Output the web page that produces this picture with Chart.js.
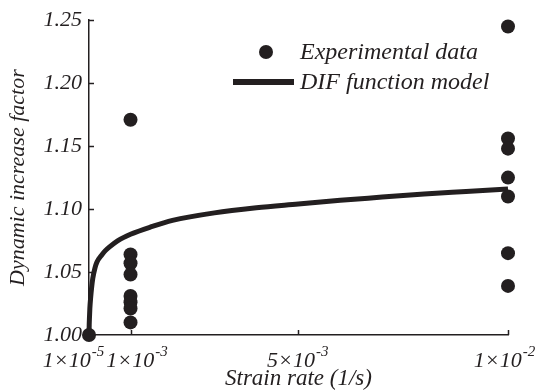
<!DOCTYPE html>
<html>
<head>
<meta charset="utf-8">
<script src="https://cdn.jsdelivr.net/npm/chart.js@4"></script>
<style>
  html, body { margin: 0; padding: 0; background: #fff; }
  #wrap { width: 536px; height: 392px; }
</style>
</head>
<body>
<div id="wrap"><canvas id="difChart" width="536" height="392"></canvas></div>
<script>
// ======================
// DATA
// ======================
const rateTicks = [1e-5, 1e-3, 5e-3, 1e-2];
const rateTickMantissa = ['1×10', '1×10', '5×10', '1×10'];
const rateTickExponent = ['-5', '-3', '-3', '-2'];

const difTicks = [1.00, 1.05, 1.10, 1.15, 1.20, 1.25];

// experimental points (strain rate, DIF)
const expRate = [
  1e-5,
  1e-3, 1e-3, 1e-3, 1e-3, 1e-3, 1e-3, 1e-3, 1e-3,
  1e-2, 1e-2, 1e-2, 1e-2, 1e-2, 1e-2, 1e-2
];
const expDif = [
  1.000,
  1.171, 1.064, 1.057, 1.048, 1.031, 1.026, 1.021, 1.010,
  1.245, 1.156, 1.148, 1.125, 1.110, 1.065, 1.039
];

// DIF function model curve
const modelRate = [
  1e-5, 1.5e-5, 2e-5, 3e-5, 5e-5, 7e-5, 1e-4, 1.5e-4, 2e-4, 3e-4, 4e-4, 5e-4, 7e-4,
  1e-3, 1.5e-3, 2e-3, 3e-3, 4e-3, 5e-3, 6e-3, 7e-3, 8e-3, 9e-3, 1e-2
];
const modelDif = [
  1.000, 1.008, 1.013, 1.021, 1.030, 1.037, 1.045, 1.053, 1.058, 1.063, 1.067, 1.070, 1.075,
  1.080, 1.086, 1.091, 1.097, 1.101, 1.104, 1.107, 1.1095, 1.112, 1.114, 1.116
];

// ======================
// STYLE
// ======================
const INK = '#231f20';
const SERIF = "'Liberation Serif', 'Times New Roman', serif";

// ======================
// AXIS + LEGEND DECOR
// ======================
const axisDecor = {
  id: 'axisDecor',
  afterDraw(chart) {
    const { ctx, chartArea, scales } = chart;
    const xs = scales.x;
    const ys = scales.y;

    ctx.save();
    ctx.strokeStyle = INK;
    ctx.fillStyle = INK;
    ctx.lineWidth = 1.5;

    // inward tick marks
    difTicks.forEach(v => {
      const py = Math.round(ys.getPixelForValue(v)) + 0.5;
      ctx.beginPath();
      ctx.moveTo(chartArea.left, py);
      ctx.lineTo(chartArea.left + 5, py);
      ctx.stroke();
    });
    rateTicks.forEach(v => {
      const px = Math.round(xs.getPixelForValue(v)) + 0.5;
      ctx.beginPath();
      ctx.moveTo(px, chartArea.bottom);
      ctx.lineTo(px, chartArea.bottom - 5);
      ctx.stroke();
    });

    // x tick labels with superscript
    const baseFont = 'italic 22px ' + SERIF;
    const supFont = 'italic 15px ' + SERIF;
    const nudge = [-16, 6, -1, -4];
    ctx.textBaseline = 'alphabetic';
    ctx.textAlign = 'left';
    rateTicks.forEach((v, i) => {
      const px = xs.getPixelForValue(v);
      ctx.font = baseFont;
      const wBase = ctx.measureText(rateTickMantissa[i]).width;
      ctx.font = supFont;
      const wSup = ctx.measureText(rateTickExponent[i]).width;
      const x0 = px - (wBase + wSup) / 2 + nudge[i];
      ctx.font = baseFont;
      ctx.fillText(rateTickMantissa[i], x0, 367);
      ctx.font = supFont;
      ctx.fillText(rateTickExponent[i], x0 + wBase + 1, 356);
    });

    // legend
    ctx.font = 'italic 24px ' + SERIF;
    ctx.textBaseline = 'middle';
    ctx.beginPath();
    ctx.arc(266, 52, 7, 0, Math.PI * 2);
    ctx.fill();
    ctx.fillText('Experimental data', 300, 53);

    ctx.lineWidth = 6;
    ctx.beginPath();
    ctx.moveTo(233, 82);
    ctx.lineTo(294, 82);
    ctx.stroke();
    ctx.fillText('DIF function model', 300, 83);

    ctx.restore();
  }
};

// ======================
// CHART
// ======================
const canvas = document.getElementById('difChart');

new Chart(canvas, {
  type: 'scatter',

  data: {
    datasets: [
      {
        label: 'Experimental data',
        data: expRate.map((r, i) => ({ x: r, y: expDif[i] })),
        backgroundColor: INK,
        borderColor: INK,
        pointRadius: 7,
        pointHoverRadius: 7,
        borderWidth: 0,
        clip: false
      },
      {
        label: 'DIF function model',
        data: modelRate.map((r, i) => ({ x: r, y: modelDif[i] })),
        showLine: true,
        borderColor: INK,
        borderWidth: 5,
        pointRadius: 0,
        cubicInterpolationMode: 'monotone',
        clip: false
      }
    ]
  },

  options: {
    responsive: false,
    animation: false,
    events: [],

    layout: {
      padding: { left: 0, right: 28, top: 17, bottom: 0 }
    },

    plugins: {
      legend: { display: false },
      tooltip: { enabled: false }
    },

    scales: {
      x: {
        type: 'linear',
        min: 1e-5,
        max: 1e-2,
        afterBuildTicks: (scale) => {
          scale.ticks = rateTicks.map(v => ({ value: v }));
        },
        afterFit: (scale) => { scale.height = 57; },
        grid: { display: false, drawTicks: false },
        border: { display: true, color: INK, width: 1.5 },
        ticks: { display: false },
        title: {
          display: true,
          text: 'Strain rate (1/s)',
          color: INK,
          font: { family: SERIF, size: 23, style: 'italic', lineHeight: 1.1 },
          padding: { top: 0, bottom: 0 }
        }
      },
      y: {
        min: 1.0,
        max: 1.25,
        afterBuildTicks: (scale) => {
          scale.ticks = difTicks.map(v => ({ value: v }));
        },
        afterFit: (scale) => { scale.width = 89; },
        grid: { display: false, drawTicks: false },
        border: { display: true, color: INK, width: 1.5 },
        ticks: {
          color: INK,
          padding: 7,
          font: { family: SERIF, size: 22, style: 'italic' },
          callback: (v) => Number(v).toFixed(2)
        },
        title: {
          display: true,
          text: 'Dynamic increase factor',
          color: INK,
          font: { family: SERIF, size: 22, style: 'italic', lineHeight: 1.2 },
          padding: { top: 5, bottom: 0 }
        }
      }
    }
  },

  plugins: [axisDecor]
});
</script>
</body>
</html>
